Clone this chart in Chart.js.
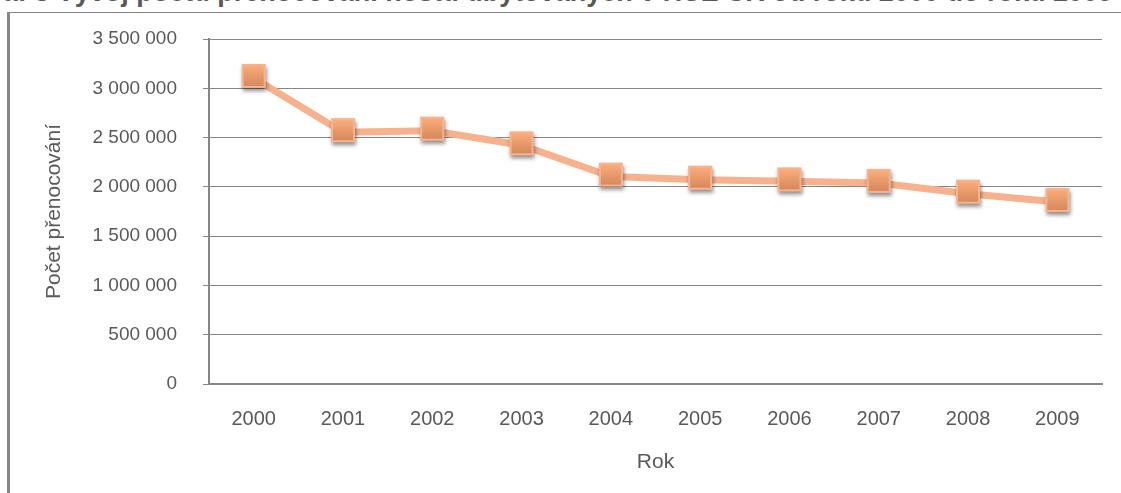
<!DOCTYPE html>
<html>
<head>
<meta charset="utf-8">
<script src="https://cdn.jsdelivr.net/npm/chart.js@4/dist/chart.umd.min.js"></script>
<style>
  html, body { margin: 0; padding: 0; background: #fff; }
  #wrap { position: relative; width: 1121px; height: 493px; overflow: hidden; }
  #titulek {
    position: absolute; right: 8px; top: -23px; white-space: nowrap;
    font: bold 27px "Liberation Sans", Arial, sans-serif; color: #595959;
  }
  #ramecek {
    position: absolute; left: 7px; top: 12px; width: 1200px; height: 600px;
    border-left: 3px solid #868686; border-top: 1px solid #868686;
  }
  #graf { position: absolute; left: 0; top: 0; }
</style>
</head>
<body>
<div id="wrap">
  <div id="titulek">Graf 3 Vývoj počtu přenocování hostů ubytovaných v HUZ ČR od roku 2000 do roku 2009</div>
  <div id="ramecek"></div>
  <canvas id="graf" width="1121" height="493"></canvas>
</div>
<script>
// data
var roky = ["2000", "2001", "2002", "2003", "2004", "2005", "2006", "2007", "2008", "2009"];
var prenocovani = [3105000, 2555000, 2570000, 2422000, 2104000, 2073000, 2056000, 2040000, 1931000, 1847000];
var osaY = [0, 500000, 1000000, 1500000, 2000000, 2500000, 3000000, 3500000];

// formát čísla s mezerami (3 500 000)
function formatCislo(v) {
    return String(v).replace(/\B(?=(\d{3})+(?!\d))/g, " ");
}

// čtvereček s přechodem a stínem jako značka bodu
function udelejZnacku() {
    var c = document.createElement("canvas");
    c.width = 34; c.height = 36;
    var ctx = c.getContext("2d");
    ctx.shadowColor = "rgba(0,0,0,0.45)";
    ctx.shadowBlur = 4;
    ctx.shadowOffsetX = 1;
    ctx.shadowOffsetY = 3;
    var g = ctx.createLinearGradient(0, 5, 0, 28);
    g.addColorStop(0, "#fcae7c");
    g.addColorStop(1, "#d4855a");
    ctx.fillStyle = "#f8b38c";
    ctx.fillRect(5, 4, 24, 24);
    ctx.shadowColor = "transparent";
    ctx.fillStyle = g;
    ctx.fillRect(7, 6, 20, 20);
    return c;
}

var sedaMrizka = "#868686";
var sedyText = "#595959";
var pismo = "'Liberation Sans', Arial, sans-serif";

new Chart(document.getElementById("graf"), {
    type: "line",
    data: {
        labels: roky,
        datasets: [{
            label: "Počet přenocování",
            data: prenocovani,
            borderColor: "#f7b18c",
            borderWidth: 7,
            pointStyle: udelejZnacku(),
            pointRadius: 12,
            pointHoverRadius: 12,
            tension: 0
        }]
    },
    options: {
        responsive: false,
        animation: false,
        events: [],
        layout: { padding: { left: 0, top: 39, right: 14, bottom: 0 } },
        plugins: {
            legend: { display: false },
            tooltip: { enabled: false }
        },
        scales: {
            x: {
                offset: true,
                grid: { display: false, drawTicks: false },
                border: { color: sedaMrizka, width: 2 },
                ticks: { color: sedyText, font: { family: pismo, size: 20 }, padding: 23 },
                title: { display: true, text: "Rok", color: sedyText, font: { family: pismo, size: 21 }, padding: { top: 0, bottom: 18 } },
                afterFit: function (s) { s.height = 109; }
            },
            y: {
                min: 0,
                max: 3500000,
                afterBuildTicks: function (s) { s.ticks = osaY.map(function (v) { return { value: v }; }); },
                grid: { color: sedaMrizka, lineWidth: 1, tickLength: 6, tickColor: sedaMrizka },
                border: { color: sedaMrizka, width: 2 },
                ticks: {
                    color: sedyText,
                    font: { family: pismo, size: 19 },
                    padding: 26,
                    callback: function (v) { return formatCislo(v); }
                },
                title: { display: true, text: "Počet přenocování", color: sedyText, font: { family: pismo, size: 21 }, padding: { top: 42, bottom: 0 } },
                afterFit: function (s) { s.width = 209; }
            }
        }
    }
});
</script>
</body>
</html>
